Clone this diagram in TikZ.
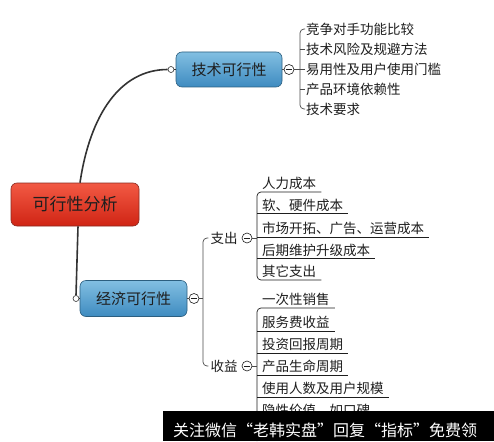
\documentclass[tikz,border=0pt]{standalone}
\usepackage{fontspec}
\setmainfont{Noto Sans CJK SC}
\usetikzlibrary{calc}
\definecolor{rootTop}{HTML}{F25A44}
\definecolor{rootBot}{HTML}{D02414}
\definecolor{rootEdge}{HTML}{8A2A20}
\definecolor{blueTop}{HTML}{82BFE2}
\definecolor{blueBot}{HTML}{3E8BC0}
\definecolor{blueEdge}{HTML}{2C5F80}
\definecolor{ink}{HTML}{1E1E1E}
\definecolor{connc}{HTML}{333333}
\definecolor{brkc}{HTML}{4A4A4A}
\tikzset{
  rootbox/.style={draw=rootEdge, line width=0.6pt, rounded corners=6pt, top color=rootTop, bottom color=rootBot, text=ink, font=\fontsize{17}{18}\selectfont, inner sep=0pt},
  bluebox/.style={draw=blueEdge, line width=0.6pt, rounded corners=6pt, top color=blueTop, bottom color=blueBot, text=ink, font=\fontsize{15}{16}\selectfont, inner sep=0pt},
  conn/.style={draw=connc, line width=1.6pt},
  knob/.style={circle, draw=connc, fill=white, line width=0.6pt, minimum size=6pt, inner sep=0pt},
  minus/.style={circle, draw=ink, fill=white, line width=0.6pt, minimum size=10pt, inner sep=0pt},
  brkline/.style={draw=brkc, line width=0.7pt},
  uline/.style={draw=ink, line width=0.7pt},
  titem/.style={anchor=west, inner xsep=1pt, inner ysep=0pt, text=ink, font=\fontsize{13.5}{14}\selectfont},
  eitem/.style={anchor=south west, inner xsep=5pt, inner ysep=1pt, text height=11pt, text depth=2pt, text=ink, font=\fontsize{13.5}{14}\selectfont},
  lab/.style={inner sep=1pt, text=ink, font=\fontsize{13.5}{14}\selectfont},
}
\begin{document}
\begin{tikzpicture}[x=1pt,y=-1pt]
\useasboundingbox[fill=white] (0,0) rectangle (494,441);

% main nodes
\node[rootbox, minimum width=128pt, minimum height=43pt] (root) at (75,204.5) {可行性分析};
\node[bluebox, minimum width=106pt, minimum height=35pt] (tech) at (229,69.5) {技术可行性};
\node[bluebox, minimum width=107pt, minimum height=36pt] (econ) at (133.5,298.5) {经济可行性};

\node[knob] (tk) at (171,69.5) {};
\node[knob] (ek) at (76,298.5) {};

\draw[conn] ([xshift=5pt]root.north) .. controls (90,115) and (120,69.5) .. (tk.west);
\draw[conn] ([xshift=3pt]root.south) -- (ek.north);
\draw[draw=connc, line width=0.6pt] (tk.east) -- (tech.west);
\draw[draw=connc, line width=0.6pt] (ek.east) -- (econ.west);

% technical branch
\node[minus] (tm) at (289,69.5) {};
\draw[ink, line width=0.8pt] ([xshift=-2.8pt]tm.center) -- ([xshift=2.8pt]tm.center);
\draw[brkline] (tech.east) -- (tm.west);
\coordinate (tb) at (300,69.5);
\draw[brkline] (tm.east) -- (tb);
\node[titem] (t1) at (305,29) {竞争对手功能比较};
\node[titem] (t2) at (305,49) {技术风险及规避方法};
\node[titem] (t3) at (305,69.5) {易用性及用户使用门槛};
\node[titem] (t4) at (305,89) {产品环境依赖性};
\node[titem] (t5) at (305,109) {技术要求};
\draw[brkline, rounded corners=4pt] (t1.west) -| (tb) |- (t5.west);
\draw[brkline] (tb |- t2.west) -- (t2.west);
\draw[brkline] (tb) -- (t3.west);
\draw[brkline] (tb |- t4.west) -- (t4.west);

% economic branch
\node[minus] (em) at (194,298.5) {};
\draw[ink, line width=0.8pt] ([xshift=-2.8pt]em.center) -- ([xshift=2.8pt]em.center);
\draw[brkline] (econ.east) -- (em.west);
\coordinate (ev) at (203,298.5);
\draw[brkline] (em.east) -- (ev);
\node[lab] (zlab) at (224,238) {支出};
\node[lab] (slab) at (224,366) {收益};
\draw[brkline, rounded corners=4pt] ([xshift=-1pt]zlab.west) -| (ev) |- ([xshift=-1pt]slab.west);

% expenditure
\node[minus] (zm) at (247,238) {};
\draw[ink, line width=0.8pt] ([xshift=-2.8pt]zm.center) -- ([xshift=2.8pt]zm.center);
\node[eitem] (c1) at (257,192) {人力成本};
\node[eitem] (c2) at (257,213.5) {软、硬件成本};
\node[eitem] (c3) at (257,237) {市场开拓、广告、运营成本};
\node[eitem] (c4) at (257,258.5) {后期维护升级成本};
\node[eitem] (c5) at (257,280) {其它支出};
\draw[uline, rounded corners=4pt] (c1.south east) -- (c1.south west) -- (c5.south west) -- (c5.south east);
\draw[uline] (c2.south west) -- (c2.south east);
\draw[uline] (c3.south west) -- (c3.south east);
\draw[uline] (c4.south west) -- (c4.south east);
\draw[brkline] (zm.east) -- (zm.east -| c1.south west);

% income
\node[minus] (sm) at (247,366) {};
\draw[ink, line width=0.8pt] ([xshift=-2.8pt]sm.center) -- ([xshift=2.8pt]sm.center);
\node[eitem] (s1) at (257,308) {一次性销售};
\node[eitem] (s2) at (257,331) {服务费收益};
\node[eitem] (s3) at (257,353) {投资回报周期};
\node[eitem] (s4) at (257,375) {产品生命周期};
\node[eitem] (s5) at (257,397) {使用人数及用户规模};
\node[eitem] (s6) at (257,419) {隐性价值，如口碑};
\coordinate (sbot) at (257,441);
\draw[uline, rounded corners=4pt] (s1.south east) -- (s1.south west) -- (sbot);
\foreach \k in {2,3,4,5} { \draw[uline] (s\k.south west) -- (s\k.south east); }
\draw[brkline] (sm.east) -- (sm.east -| s1.south west);

% watermark bar
\fill[black] (163,411) rectangle (494,441);
\node[text=white, inner sep=0pt, font=\fontsize{16}{17}\selectfont] (wm) at (325,430) {关注微信“老韩实盘”回复“指标”免费领};
\end{tikzpicture}
\end{document}
